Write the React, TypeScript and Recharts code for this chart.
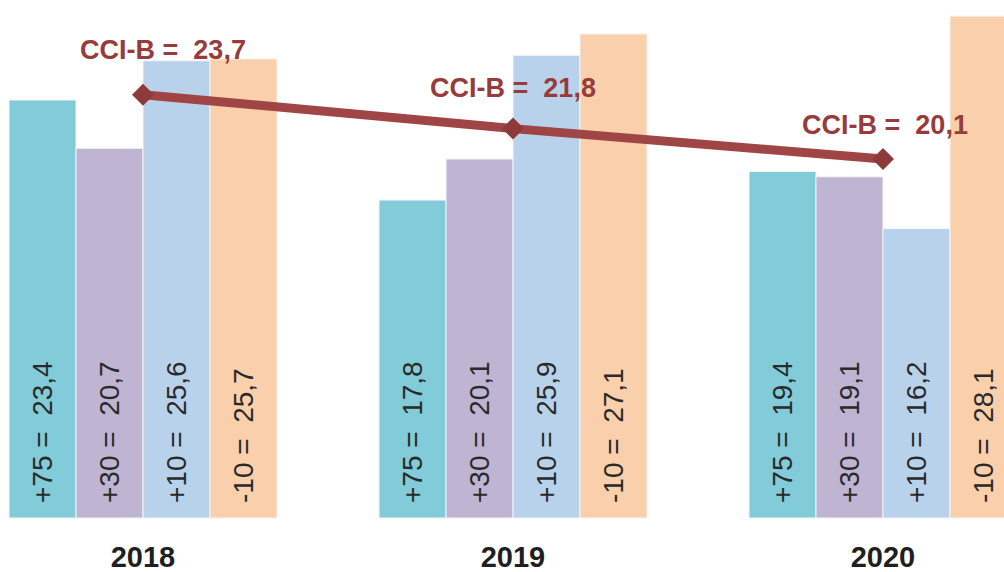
import React from 'react';
import { ComposedChart, Bar, Line, XAxis, YAxis, LabelList } from 'recharts';

const years = ['2018', '2019', '2020'];
const plus75 = [23.4, 17.8, 19.4];
const plus30 = [20.7, 20.1, 19.1];
const plus10 = [25.6, 25.9, 16.2];
const minus10 = [25.7, 27.1, 28.1];
const cciB = [23.7, 21.8, 20.1];

const seriesNames = ['+75', '+30', '+10', '-10'];
const seriesKeys = ['p75', 'p30', 'p10', 'm10'];
const seriesColors = ['#82CBD8', '#BFB5D2', '#B8D2EC', '#FACFAB'];

const data = years.map((y, i) => ({
  year: y,
  p75: plus75[i],
  p30: plus30[i],
  p10: plus10[i],
  m10: minus10[i],
  cci: cciB[i],
}));

const FONT = '"Liberation Sans", Arial, sans-serif';
const fmt = (v: number) => v.toFixed(1).replace('.', ',');

const makeBarLabel = (name: string) => (props: any) => {
  const { x, y, width, height, value } = props;
  const cx = x + width / 2;
  const by = y + height - 15;
  return (
    <text
      x={cx}
      y={by}
      transform={`rotate(-90 ${cx} ${by})`}
      textAnchor="start"
      dominantBaseline="central"
      fontFamily={FONT}
      fontSize={28}
      fill="#2a2a2a"
      style={{ whiteSpace: 'pre' }}
    >
      {`${name} =  ${fmt(value)}`}
    </text>
  );
};

const LABEL_DX = [20, 0, 2];
const LABEL_DY = [-36, -32, -25];

const CciLabel = (props: any) => {
  const { x, y, value, index } = props;
  return (
    <text
      x={x + LABEL_DX[index]}
      y={y + LABEL_DY[index]}
      textAnchor="middle"
      fontFamily={FONT}
      fontWeight="bold"
      fontSize={27}
      fill="#973B3B"
      style={{ whiteSpace: 'pre' }}
    >
      {`CCI-B =  ${fmt(value)}`}
    </text>
  );
};

const Diamond = (props: any) => {
  const { cx, cy } = props;
  const r = 11;
  return (
    <path
      d={`M${cx},${cy - r} L${cx + r},${cy} L${cx},${cy + r} L${cx - r},${cy} Z`}
      fill="#8E3A3A"
    />
  );
};

const YearTick = (props: any) => {
  const { x, y, payload } = props;
  return (
    <text
      x={x}
      y={y + 41}
      textAnchor="middle"
      fontFamily={FONT}
      fontWeight="bold"
      fontSize={29}
      fill="#1f1f1f"
    >
      {payload.value}
    </text>
  );
};

export default function App() {
  return (
    <div
      style={{
        position: 'fixed',
        left: 0,
        top: 0,
        width: 1004,
        height: 572,
        overflow: 'hidden',
        background: '#ffffff',
      }}
    >
      <div style={{ position: 'absolute', left: -42, top: 0 }}>
        <ComposedChart
          width={1110}
          height={572}
          data={data}
          margin={{ top: 0, right: 0, left: 0, bottom: 0 }}
          barCategoryGap={51}
          barGap={0}
        >
          <XAxis
            dataKey="year"
            height={54}
            axisLine={false}
            tickLine={false}
            tick={<YearTick />}
            interval={0}
          />
          <YAxis hide domain={[0, 29]} />
          {seriesKeys.map((k, i) => (
            <Bar
              key={k}
              dataKey={k}
              fill={seriesColors[i]}
              stroke="#f4f4f4"
              strokeWidth={1}
              isAnimationActive={false}
            >
              <LabelList dataKey={k} content={makeBarLabel(seriesNames[i])} />
            </Bar>
          ))}
          <Line
            type="linear"
            dataKey="cci"
            stroke="#A04545"
            strokeWidth={9}
            dot={<Diamond />}
            activeDot={false}
            isAnimationActive={false}
          >
            <LabelList dataKey="cci" content={<CciLabel />} />
          </Line>
        </ComposedChart>
      </div>
    </div>
  );
}
